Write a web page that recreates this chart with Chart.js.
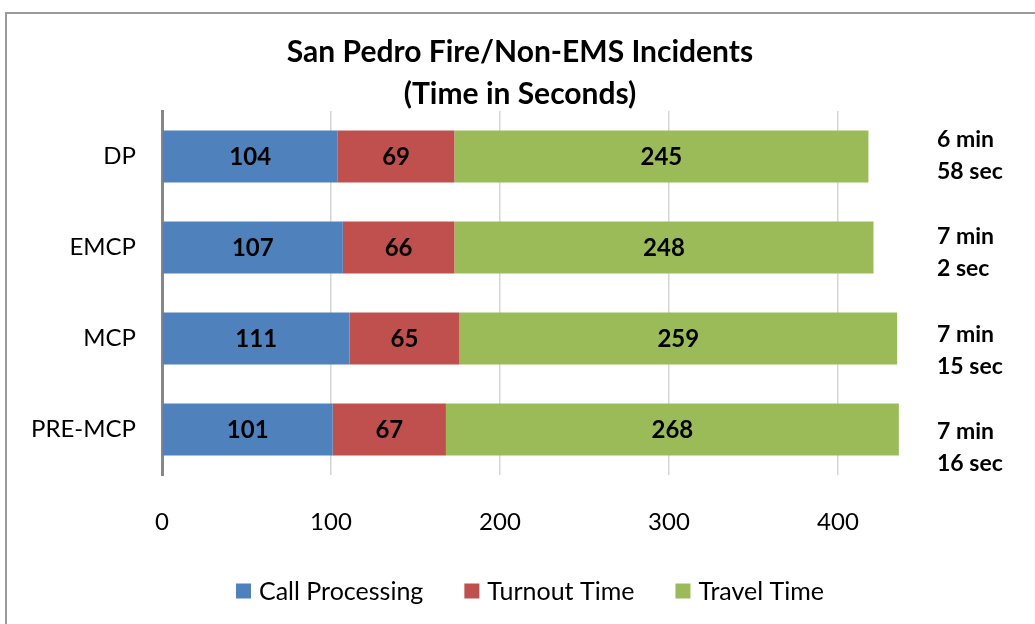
<!DOCTYPE html>
<html>
<head>
<meta charset="utf-8">
<script src="https://cdn.jsdelivr.net/npm/chart.js@4/dist/chart.umd.min.js"></script>
<style>
  html, body { margin: 0; padding: 0; background: #fff; }
  #wrap { width: 1035px; height: 624px; position: relative; }
</style>
</head>
<body>
<div id="wrap"><canvas id="chart" width="1035" height="624"></canvas></div>
<script>
// Categories (top to bottom) and the three stacked components, in seconds
const phases = ['DP', 'EMCP', 'MCP', 'PRE-MCP'];
const callProcessing = [104, 107, 111, 101];
const turnoutTime = [69, 66, 65, 67];
const travelTime = [245, 248, 259, 268];
// Total time text shown to the right of each bar
const totalLine1 = ['6 min', '7 min', '7 min', '7 min'];
const totalLine2 = ['58 sec', '2 sec', '15 sec', '16 sec'];
const xTicks = [0, 100, 200, 300, 400, 500];

const FONT = 'Lato, "Open Sans", sans-serif';

// value labels centered inside each bar segment
const barLabels = {
    id: 'barLabels',
    afterDatasetsDraw(chart) {
        const ctx = chart.ctx;
        ctx.save();
        ctx.font = 'bold 24px ' + FONT;
        ctx.fillStyle = '#000';
        ctx.textAlign = 'center';
        ctx.textBaseline = 'middle';
        chart.data.datasets.forEach((ds, di) => {
            chart.getDatasetMeta(di).data.forEach((bar, i) => {
                const p = bar.getCenterPoint();
                ctx.fillText(ds.data[i], p.x, p.y + 1);
            });
        });
        ctx.restore();
    }
};

// totals on the right, legend at the bottom, outer frame
const extras = {
    id: 'extras',
    afterDraw(chart) {
        const ctx = chart.ctx;
        const y = chart.scales.y;
        ctx.save();
        ctx.font = 'bold 23px ' + FONT;
        ctx.fillStyle = '#000';
        ctx.textAlign = 'left';
        ctx.textBaseline = 'middle';
        phases.forEach((p, i) => {
            const c = y.getPixelForValue(i);
            const lift = -17 + 6.5 * i; // text boxes drift down a little
            ctx.fillText(totalLine1[i], 937, c + lift);
            ctx.fillText(totalLine2[i], 937, c + lift + 32);
        });

        // legend: square, 8px gap, label, 41px to next item; centered at x=530
        ctx.font = '25px ' + FONT;
        const items = chart.data.datasets.map(ds => ({
            text: ds.label, color: ds.backgroundColor, w: ctx.measureText(ds.label).width
        }));
        const total = items.reduce((s, it) => s + 15 + 8 + it.w, 0) + 41 * (items.length - 1);
        let x = 530 - total / 2;
        const ly = 591;
        items.forEach(it => {
            ctx.fillStyle = it.color;
            ctx.fillRect(x, ly - 7.5, 15, 15);
            ctx.fillStyle = '#000';
            ctx.fillText(it.text, x + 23, ly + 1);
            x += 15 + 8 + it.w + 41;
        });

        // chart frame (only top and left edges are visible)
        ctx.strokeStyle = '#9a9a9a';
        ctx.lineWidth = 2;
        ctx.beginPath();
        ctx.moveTo(6, 640);
        ctx.lineTo(6, 13);
        ctx.lineTo(1040, 13);
        ctx.stroke();
        ctx.restore();
    }
};

new Chart(document.getElementById('chart').getContext('2d'), {
    type: 'bar',
    data: {
        labels: phases,
        datasets: [
            { label: 'Call Processing', data: callProcessing, backgroundColor: '#4F81BD' },
            { label: 'Turnout Time', data: turnoutTime, backgroundColor: '#C0504D' },
            { label: 'Travel Time', data: travelTime, backgroundColor: '#9BBB59' }
        ]
    },
    options: {
        indexAxis: 'y',
        responsive: false,
        animation: false,
        layout: { padding: { left: 33, right: 28, top: 0, bottom: 60 } },
        datasets: { bar: { barPercentage: 1, categoryPercentage: 0.57 } },
        scales: {
            x: {
                stacked: true,
                min: 0,
                max: 500,
                afterBuildTicks(scale) { scale.ticks = xTicks.map(v => ({ value: v })); },
                afterFit(scale) {
                    scale.height = 89;
                    scale.paddingLeft = 0;
                    scale.paddingRight = 0;
                },
                grid: {
                    drawTicks: false,
                    lineWidth: 1.5,
                    color: c => (c.tick && (c.tick.value === 0 || c.tick.value === 500)) ? 'rgba(0,0,0,0)' : '#d6d6d6'
                },
                border: { display: false },
                ticks: {
                    padding: 33,
                    color: '#000',
                    font: { family: FONT, size: 24 },
                    callback: v => v === 500 ? '' : v
                }
            },
            y: {
                stacked: true,
                afterFit(scale) { scale.width = 129; },
                grid: { display: false, drawTicks: false },
                border: { display: true, color: '#878787', width: 3 },
                ticks: {
                    padding: 26,
                    color: '#000',
                    font: { family: FONT, size: 24 }
                }
            }
        },
        plugins: {
            title: {
                display: true,
                text: ['San Pedro Fire/Non-EMS Incidents', '(Time in Seconds)'],
                color: '#000',
                font: { family: FONT, size: 30, weight: 'bold', lineHeight: 1.4 },
                padding: { top: 31, bottom: -4 }
            },
            legend: { display: false },
            tooltip: { enabled: false }
        }
    },
    plugins: [barLabels, extras]
});
</script>
</body>
</html>
